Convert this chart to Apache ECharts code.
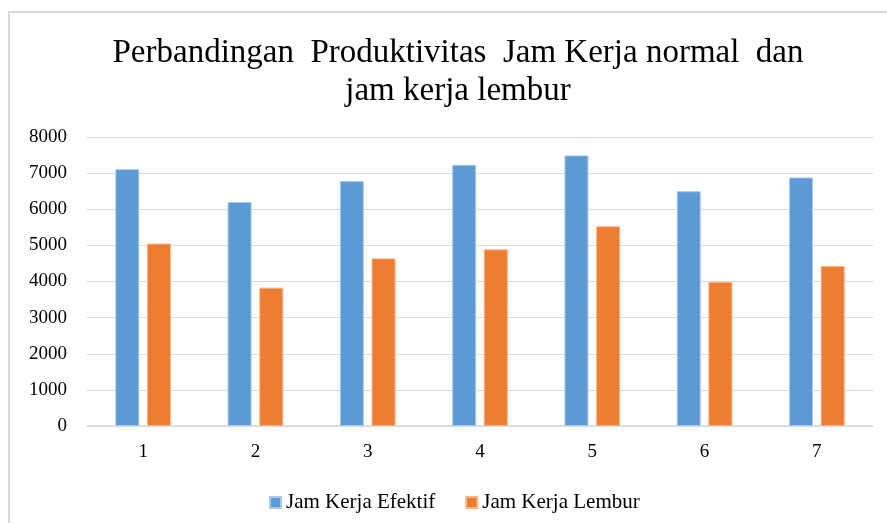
<!DOCTYPE html>
<html>
<head>
<meta charset="utf-8">
<script src="https://cdn.jsdelivr.net/npm/echarts@6/dist/echarts.min.js"></script>
<style>
  html, body { margin: 0; padding: 0; background: #fff; }
  #main { width: 887px; height: 523px; }
</style>
</head>
<body>
<div id="main"></div>
<script>
var categories = ['1', '2', '3', '4', '5', '6', '7'];
var jamEfektif = [7110, 6200, 6780, 7230, 7490, 6500, 6880];
var jamLembur = [5050, 3830, 4640, 4890, 5530, 3990, 4430];

var serif = '"Liberation Serif", "DejaVu Serif", serif';
var myChart = echarts.init(document.getElementById('main'));

var option = {
    backgroundColor: '#fff',
    animation: false,
    graphic: [
        {
            type: 'rect',
            shape: { x: 9, y: 12, width: 900, height: 540 },
            style: { fill: 'none', stroke: '#d9d9d9', lineWidth: 2 },
            silent: true
        }
    ],
    title: {
        text: 'Perbandingan  Produktivitas  Jam Kerja normal  dan\njam kerja lembur',
        left: 453,
        textAlign: 'center',
        top: 29,
        textStyle: {
            fontFamily: serif,
            fontSize: 33,
            fontWeight: 'normal',
            color: '#000',
            lineHeight: 38
        }
    },
    legend: {
        left: 264,
        top: 487,
        itemWidth: 11,
        itemHeight: 11,
        itemGap: 30,
        icon: 'rect',
        textStyle: { fontFamily: serif, fontSize: 21, color: '#000' },
        data: ['Jam Kerja Efektif', 'Jam Kerja Lembur']
    },
    grid: { left: 87, right: 14, top: 137, bottom: 97, containLabel: false },
    xAxis: {
        type: 'category',
        data: categories,
        axisLine: { lineStyle: { color: '#d9d9d9', width: 1.5 } },
        axisTick: { show: false },
        axisLabel: { fontFamily: serif, fontSize: 19, color: '#000', margin: 17 }
    },
    yAxis: {
        type: 'value',
        min: 0,
        max: 8000,
        interval: 1000,
        axisLine: { show: false },
        axisTick: { show: false },
        splitLine: { lineStyle: { color: '#d9d9d9', width: 1 } },
        axisLabel: {
            fontFamily: serif, fontSize: 19, color: '#000', margin: 20,
            formatter: function (v) { return String(v); }
        }
    },
    series: [
        {
            name: 'Jam Kerja Efektif',
            type: 'bar',
            data: jamEfektif,
            barWidth: 24,
            barGap: '32%',
            itemStyle: { color: '#5b9bd5', borderColor: '#a9c9ea', borderWidth: 1 }
        },
        {
            name: 'Jam Kerja Lembur',
            type: 'bar',
            data: jamLembur,
            barWidth: 24,
            itemStyle: { color: '#ed7d31', borderColor: '#f5b48a', borderWidth: 1 }
        }
    ]
};

myChart.setOption(option);
</script>
</body>
</html>
